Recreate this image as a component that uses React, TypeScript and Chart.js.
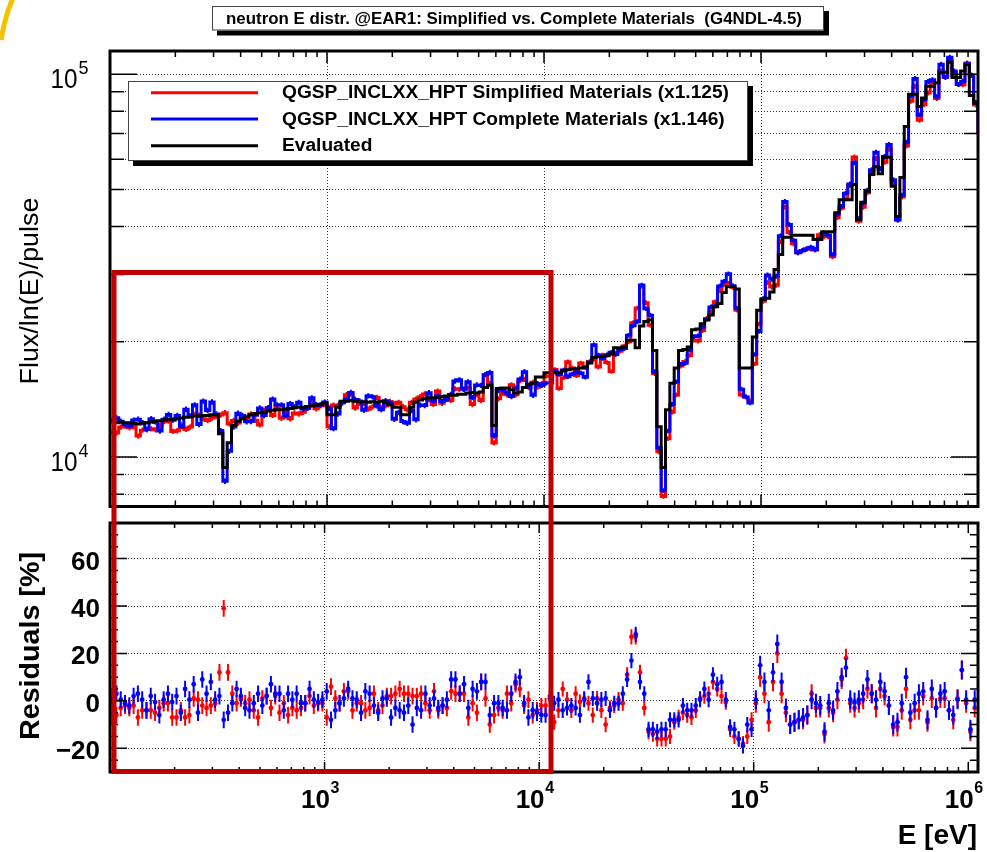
import React, { useEffect, useRef } from "react";
import { Chart, registerables } from "chart.js";

Chart.register(...registerables);

// ---------------- data ----------------
const binsPerDecade = 50;
const logEnergyStart = 2; // low edge of first bin = 10^2 eV

// Evaluated flux per bin (units of 1000 counts)
const evaluatedFluxK = [
  12.35, 12.3, 12.35, 12.3, 12.3, 12.25, 12.2, 12.25, 12.3, 12.35,
  12.4, 12.45, 12.5, 12.55, 12.55, 12.6, 12.65, 12.7, 12.75, 12.8,
  12.8, 12.85, 12.85, 12.9, 12.9, 11.5, 9.4, 10.9, 12.1, 12.4,
  12.6, 12.75, 12.9, 13.0, 13.05, 13.1, 13.2, 13.25, 13.3, 13.3,
  13.35, 13.4, 13.45, 13.5, 13.5, 13.55, 13.6, 13.65, 13.75, 13.85,
  12.9, 12.9, 13.5, 14.0, 14.0, 14.05, 14.0, 13.95, 13.95, 13.9,
  13.95, 13.9, 14.0, 13.9, 13.7, 13.5, 13.5, 12.9, 12.9, 13.5,
  13.9, 14.1, 14.2, 14.3, 14.3, 14.3, 14.4, 14.45, 14.5, 14.5,
  14.6, 14.6, 14.7, 14.75, 14.7, 14.8, 15.2, 15.4, 12.1, 15.1,
  15.15, 15.15, 15.0, 14.7, 14.8, 15.2, 15.5, 15.6, 16.2, 16.2,
  16.6, 16.6, 16.6, 16.6, 16.8, 16.9, 17.0, 17.0, 17.1, 17.2,
  17.6, 18.2, 18.3, 18.3, 18.4, 18.6, 19.3, 19.3, 19.4, 20.2,
  20.2, 19.3, 22.0, 22.6, 22.8, 19.0, 12.0, 9.4, 13.3, 15.6,
  17.1, 19.0, 19.1, 19.4, 21.5, 21.6, 22.3, 22.8, 23.5, 24.7,
  25.2, 26.9, 27.9, 27.9, 27.5, 17.1, 17.1, 17.1, 20.6, 24.2,
  25.8, 26.0, 27.0, 30.9, 33.8, 37.5, 37.5, 38.0, 38.0, 38.0,
  38.0, 38.0, 37.0, 37.0, 38.8, 38.8, 38.8, 43.5, 47.0, 47.0,
  47.0, 51.5, 41.7, 46.3, 49.5, 54.7, 57.4, 55.0, 60.7, 60.7,
  51.0, 42.5, 53.7, 73.0, 88.6, 88.6, 82.4, 86.7, 93.0, 93.0,
  95.0, 101.2, 101.2, 107.5, 98.0, 98.0, 102.0, 106.0, 88.0, 84.0,
  80.0, 82.0,
];

// Residuals [%] of Simplified Materials (red) vs evaluated
const residualSimplified = [
  -6, -6, -3, -2, -3, -2, -7, -4, -4, -4,
  -5, -3, -1, -1, -7, -7, -4, -7, -6, 1,
  0.5, -2, -3, -2, -1, 12, 39, 12, 3, -1,
  1, -1, 0.5, -4, -7, 1, 2, -3, 2, -5,
  -1, -6, -3, -4, -3, -1, 2, -2, -1, -1,
  -7, 6, 1, -1, 4, 4, -4, -1, -1, -4,
  -3, 3, -4, -2, 2, 2, 3, 5, 3, 3,
  2, 2, 3, -1, -4, 4, -4, -2, -3, 4,
  3, 3, 3, -7, -1, -5, 8, 1, -10, -6,
  -3, -4, 3, -1, 7, 5, -2, 0.5, -6, -4,
  -2, -2, 2, -9, -4, 5, 0.5, -4, 3, -0.5,
  1, -1, -6, 1, -4, -10, -3, -2, 0.5, -1,
  11, 27, 27, 12, -3, -13, -14, -16, -16, -16,
  -15, -9, -7, -5, -6, -7, -4, 1, 2, 3,
  8, 5, 2, -0.5, -12, -15, -16, -18, -15, -8,
  -1, 10, 3, -9, 8, 20, 3, -5, -10, -9,
  -8, -8, -6, 3, -3, -3, -14, -3, -5, 0.5,
  9, 18, -1, -3, -1, 0.5, 5, 3, -3, 5,
  2, -2, -11, -11, -4, 5, -8, -4, -4, 2,
  -9, 1, -3, 1, 1, -4, -8, 1, 13, -1,
  -13, -3,
];

// Residuals [%] of Complete Materials (blue) vs evaluated
const residualComplete = [
  1, 3, 0.5, -1, -2, 2, 3, 0.5, -4, 2,
  -0.5, -6, 0.5, 3, -0.5, 2, -5, 5, 0.5, 7,
  -5, 9, 3, 8, 0.5, 2, -8, -5, -1, 5,
  2, -3, -4, -1, 3, -2, 2, 7, 3, 3,
  -4, 3, 0.5, 3, -1, -1, 5, 0.5, -0.5, 0.5,
  4, -8, -4, -1, 1, 5, 1, 0.5, -5, 4,
  3, -2, -5, 1, 1, -7, -3, -4, -5, -2,
  -10, -3, -4, 3, -2, 1, -3, -2, 0.5, 9,
  9, 3, 7, -3, 5, 4, 8, 8, -6, -1,
  -1, -3, -4, 3, 8, 10, -1, -7, -4, -5,
  -6, -6, 1, -1, 0.5, -4, -3, -2, -3, -6,
  0.5, 8, 1, -1, 0.5, 1, -4, -1, -1, 3,
  9, 17, 28, 8, 3, -12, -12, -13, -12, -12,
  -8, -8, -8, -2, -4, -4, -2, 0.5, 5, 0.5,
  11, 7, 8, 0.5, -11, -12, -16, -19, -10, -12,
  0.5, 15, 8, -4, 12, 24, 8, -3, -10, -9,
  -8, -7, -6, 0.5, -1, -2, -13, -1, -4, 4,
  10, 14, 0.5, -0.5, 0.5, 3, 9, 3, 0.5, 8,
  4, -2, -10, -9, -1, 10, -5, -1, 3, 4,
  -8, 5, -3, 3, 4, -4, -6, 0.5, 13, 0.5,
  -12, 0.5,
];

// statistical error sizes (percent), per energy decade
const topRelErrPctByDecade = [1.6, 1.6, 1.4, 1.5];
const residualErrPctByDecade = [3.5, 3.5, 3.2, 4.0];

// axis ticks
const xDecadeTicks = [1e2, 1e3, 1e4, 1e5, 1e6];
const fluxGridTicks = [8e3, 9e3, 1e4, 2e4, 3e4, 4e4, 5e4, 6e4, 7e4, 8e4, 9e4, 1e5];
const fluxMajorTicks = [1e4, 1e5];
const residualTicks = [-20, 0, 20, 40, 60];
const residualTickLabels = ["\u221220", "0", "20", "40", "60"];

const titleText = "neutron E distr. @EAR1: Simplified vs. Complete Materials  (G4NDL-4.5)";
const seriesNames = [
  "QGSP_INCLXX_HPT Simplified Materials (x1.125)",
  "QGSP_INCLXX_HPT Complete Materials (x1.146)",
  "Evaluated",
];
const seriesColors = ["#ff0000", "#0000ff", "#000000"];

// ---------------- helpers ----------------
const PAGE_W = 987;
const PAGE_H = 852;
const FONT = "'Liberation Sans', Arial, Helvetica, sans-serif";
const GRID_COLOR = "rgba(0,0,0,0.8)";

const TOP_AREA = { left: 110, top: 51, right: 978, bottom: 506.5 };
const BOT_AREA = { left: 110, top: 523, right: 978, bottom: 772 };

const binLow = (i: number) => Math.pow(10, logEnergyStart + i / binsPerDecade);
const binCenter = (i: number) => Math.pow(10, logEnergyStart + (i + 0.5) / binsPerDecade);
const decadeOf = (i: number) => Math.max(0, Math.min(3, Math.floor(i / binsPerDecade)));

const evaluatedFlux = evaluatedFluxK.map((v) => v * 1000);
const simplifiedFlux = evaluatedFlux.map((v, i) => v * (1 + residualSimplified[i] / 100));
const completeFlux = evaluatedFlux.map((v, i) => v * (1 + residualComplete[i] / 100));

function histPoints(vals: number[]) {
  const pts = vals.map((v, i) => ({ x: binLow(i), y: v }));
  pts.push({ x: binLow(vals.length), y: vals[vals.length - 1] });
  return pts;
}

function logMinor(decades: number[]) {
  const out: number[] = [];
  for (const d of decades) for (let k = 2; k <= 9; k++) out.push(d * k);
  return out;
}

function fitText(ctx: any, text: string, x: number, y: number, targetW: number, align: any = "left") {
  const w = ctx.measureText(text).width;
  const s = targetW / w;
  ctx.save();
  ctx.translate(x, y);
  ctx.scale(s, 1);
  ctx.textAlign = align;
  ctx.fillText(text, 0, 0);
  ctx.restore();
}

function shadowBox(ctx: any, x: number, y: number, w: number, h: number, sh: number) {
  ctx.save();
  ctx.fillStyle = "#000";
  ctx.fillRect(x + sh, y + sh, w, h);
  ctx.fillStyle = "#fff";
  ctx.fillRect(x, y, w, h);
  ctx.strokeStyle = "#444";
  ctx.lineWidth = 1;
  ctx.strokeRect(x + 0.5, y + 0.5, w - 1, h - 1);
  ctx.restore();
}

function frameAndTicks(chart: any, o: any) {
  const { ctx, chartArea: a } = chart;
  const xs = chart.scales.x;
  const ys = chart.scales.y;
  ctx.save();
  ctx.strokeStyle = "#000";
  ctx.lineWidth = 1.5;
  ctx.beginPath();
  const xt = (vals: number[], len: number) => {
    for (const v of vals) {
      if (v <= xs.min || v >= xs.max) continue;
      const p = xs.getPixelForValue(v);
      ctx.moveTo(p, a.bottom);
      ctx.lineTo(p, a.bottom - len);
      ctx.moveTo(p, a.top);
      ctx.lineTo(p, a.top + len);
    }
  };
  const yt = (vals: number[], len: number) => {
    for (const v of vals) {
      if (v <= ys.min || v >= ys.max) continue;
      const p = ys.getPixelForValue(v);
      ctx.moveTo(a.left, p);
      ctx.lineTo(a.left + len, p);
      ctx.moveTo(a.right, p);
      ctx.lineTo(a.right - len, p);
    }
  };
  xt(o.xMajor, o.xMajorLen);
  xt(o.xMinor, o.xMinorLen);
  yt(o.yMajor, o.yMajorLen);
  yt(o.yMinor, o.yMinorLen);
  ctx.stroke();
  ctx.lineWidth = 3;
  ctx.strokeRect(a.left, a.top, a.right - a.left, a.bottom - a.top);
  ctx.restore();
}

// Chart.js paints dataset 0 last (on top); datasets are listed top-most first.
// top chart datasets: 0 = evaluated (black), 1 = complete (blue), 2 = simplified (red)
const topSeriesOrder = [2, 1, 0];
const topValues = [evaluatedFlux, completeFlux, simplifiedFlux];

const topPlugin = {
  id: "topDecor",
  afterDatasetDraw(chart: any, args: any) {
    if (args.index === 0) return;
    const vals = topValues[args.index];
    const color = seriesColors[topSeriesOrder[args.index]];
    const { ctx, chartArea: a } = chart;
    const xs = chart.scales.x;
    const ys = chart.scales.y;
    ctx.save();
    ctx.beginPath();
    ctx.rect(a.left, a.top, a.right - a.left, a.bottom - a.top);
    ctx.clip();
    ctx.strokeStyle = color;
    ctx.lineWidth = 2;
    ctx.beginPath();
    vals.forEach((v, i) => {
      const e = topRelErrPctByDecade[decadeOf(i)] / 100;
      const px = xs.getPixelForValue(binCenter(i));
      ctx.moveTo(px, ys.getPixelForValue(v * (1 - e)));
      ctx.lineTo(px, ys.getPixelForValue(v * (1 + e)));
    });
    ctx.stroke();
    ctx.restore();
  },
  afterDraw(chart: any) {
    const ctx = chart.ctx;
    const ys = chart.scales.y;
    frameAndTicks(chart, {
      xMajor: xDecadeTicks,
      xMinor: logMinor([1e2, 1e3, 1e4, 1e5]),
      xMajorLen: 12,
      xMinorLen: 6,
      yMajor: fluxMajorTicks,
      yMinor: fluxGridTicks.filter((v) => fluxMajorTicks.indexOf(v) < 0),
      yMajorLen: 27,
      yMinorLen: 14,
    });
    ctx.save();
    ctx.fillStyle = "#000";
    ctx.textBaseline = "alphabetic";
    // y tick labels 10^n
    for (const v of fluxMajorTicks) {
      const p = ys.getPixelForValue(v);
      const exp = String(Math.round(Math.log10(v)));
      ctx.font = `27px ${FONT}`;
      ctx.save();
      ctx.translate(50.5, p + 14);
      ctx.scale(0.9, 1);
      ctx.fillText("10", 0, 0);
      ctx.restore();
      ctx.font = `18px ${FONT}`;
      ctx.fillText(exp, 78.5, p - 0.5);
    }
    // y title
    ctx.save();
    ctx.translate(31, 291);
    ctx.rotate(-Math.PI / 2);
    ctx.font = `26px ${FONT}`;
    ctx.textBaseline = "middle";
    fitText(ctx, "Flux/ln(E)/pulse", 0, 0, 187, "center");
    ctx.restore();
    // title box
    shadowBox(ctx, 212, 6, 612, 24.5, 5);
    ctx.font = `bold 17px ${FONT}`;
    ctx.fillStyle = "#000";
    fitText(ctx, titleText, 514, 23.5, 576, "center");
    // legend
    shadowBox(ctx, 128, 81, 620, 80, 5);
    ctx.font = `bold 18px ${FONT}`;
    const sx = 447 / ctx.measureText(seriesNames[0]).width;
    const rows = [92.7, 119, 145.7];
    seriesNames.forEach((name, k) => {
      ctx.strokeStyle = seriesColors[k];
      ctx.lineWidth = 3;
      ctx.beginPath();
      ctx.moveTo(151, rows[k]);
      ctx.lineTo(258, rows[k]);
      ctx.stroke();
      ctx.save();
      ctx.fillStyle = "#000";
      ctx.translate(282, rows[k] + 5.5);
      ctx.scale(sx, 1);
      ctx.fillText(name, 0, 0);
      ctx.restore();
    });
    ctx.restore();
  },
};

const residualMinorTicks: number[] = [];
for (let v = -25; v <= 70; v += 5) if (residualTicks.indexOf(v) < 0) residualMinorTicks.push(v);

// bottom chart datasets: 0 = complete (blue, on top), 1 = simplified (red)
const botSeriesOrder = [1, 0];
const botValues = [residualComplete, residualSimplified];

const bottomPlugin = {
  id: "bottomDecor",
  beforeDatasetDraw(chart: any, args: any) {
    const vals = botValues[args.index];
    const { ctx, chartArea: a } = chart;
    const xs = chart.scales.x;
    const ys = chart.scales.y;
    ctx.save();
    ctx.beginPath();
    ctx.rect(a.left, a.top, a.right - a.left, a.bottom - a.top);
    ctx.clip();
    ctx.strokeStyle = seriesColors[botSeriesOrder[args.index]];
    ctx.lineWidth = 2;
    ctx.beginPath();
    vals.forEach((r, i) => {
      const e = residualErrPctByDecade[decadeOf(i)];
      const px = xs.getPixelForValue(binCenter(i));
      ctx.moveTo(px, ys.getPixelForValue(r - e));
      ctx.lineTo(px, ys.getPixelForValue(r + e));
    });
    ctx.stroke();
    ctx.restore();
  },
  afterDraw(chart: any) {
    const ctx = chart.ctx;
    const xs = chart.scales.x;
    const ys = chart.scales.y;
    frameAndTicks(chart, {
      xMajor: xDecadeTicks,
      xMinor: logMinor([1e2, 1e3, 1e4, 1e5, 1e6]),
      xMajorLen: 10,
      xMinorLen: 5,
      yMajor: residualTicks,
      yMinor: residualMinorTicks,
      yMajorLen: 17,
      yMinorLen: 8,
    });
    ctx.save();
    ctx.fillStyle = "#000";
    ctx.textBaseline = "alphabetic";
    // x tick labels
    for (const v of xDecadeTicks) {
      if (v <= xs.min || v > xs.max) continue;
      const p = xs.getPixelForValue(v);
      const exp = String(Math.round(Math.log10(v)));
      ctx.font = `bold 26px ${FONT}`;
      ctx.textAlign = "left";
      ctx.fillText("10", p - 23.5, 808);
      ctx.font = `bold 16px ${FONT}`;
      ctx.fillText(exp, p + 6, 793);
    }
    // y tick labels
    ctx.font = `bold 26px ${FONT}`;
    ctx.textAlign = "right";
    residualTicks.forEach((v, k) => {
      const p = ys.getPixelForValue(v);
      ctx.fillText(residualTickLabels[k], 100, p + 11);
    });
    // y title
    ctx.save();
    ctx.translate(31, 646);
    ctx.rotate(-Math.PI / 2);
    ctx.font = `bold 28px ${FONT}`;
    ctx.textBaseline = "middle";
    fitText(ctx, "Residuals [%]", 0, 0, 188, "center");
    ctx.restore();
    // x title
    ctx.font = `bold 28px ${FONT}`;
    ctx.textAlign = "right";
    ctx.fillText("E [eV]", 977, 844);
    // red highlight rectangle
    ctx.strokeStyle = "#c00000";
    ctx.lineWidth = 5;
    ctx.strokeRect(114, 272.5, 437, 499);
    // yellow arc at the corner
    ctx.strokeStyle = "#f5c200";
    ctx.lineWidth = 5;
    ctx.beginPath();
    ctx.moveTo(13, -2);
    ctx.quadraticCurveTo(5, 16, 1, 40);
    ctx.stroke();
    ctx.restore();
  },
};

function commonScaleOpts() {
  return {
    ticks: { display: false },
    grid: { color: GRID_COLOR, lineWidth: 1, drawTicks: false },
    border: { display: false, dash: [1, 2] },
  };
}

function histDataset(vals: number[], color: string) {
  return { data: histPoints(vals), borderColor: color, borderWidth: 3, pointRadius: 0, stepped: true, fill: false };
}

function residualDataset(vals: number[], color: string) {
  return {
    data: vals.map((r, i) => ({ x: binCenter(i), y: r })),
    backgroundColor: color,
    borderColor: color,
    pointRadius: 2.4,
    pointBorderWidth: 0,
  };
}

export default function App() {
  const topRef = useRef<HTMLCanvasElement>(null);
  const botRef = useRef<HTMLCanvasElement>(null);

  useEffect(() => {
    if (!topRef.current || !botRef.current) return;
    const topChart = new Chart(topRef.current, {
      type: "line",
      data: {
        datasets: topValues.map((vals, k) => histDataset(vals, seriesColors[topSeriesOrder[k]])),
      },
      options: {
        responsive: false,
        animation: false,
        devicePixelRatio: 1,
        events: [],
        layout: {
          padding: {
            left: TOP_AREA.left,
            top: TOP_AREA.top,
            right: PAGE_W - TOP_AREA.right,
            bottom: PAGE_H - TOP_AREA.bottom,
          },
        },
        plugins: { legend: { display: false }, tooltip: { enabled: false }, title: { display: false } },
        scales: {
          x: {
            type: "logarithmic",
            min: 100,
            max: 1e6,
            bounds: "data",
            afterFit: (s: any) => { s.height = 0; },
            afterBuildTicks: (s: any) => {
              s.ticks = xDecadeTicks.filter((v) => v > 100 && v < 1e6).map((v) => ({ value: v }));
            },
            ...commonScaleOpts(),
          },
          y: {
            type: "logarithmic",
            min: 7430,
            max: 115000,
            bounds: "data",
            afterFit: (s: any) => { s.width = 0; },
            afterBuildTicks: (s: any) => {
              s.ticks = fluxGridTicks.map((v) => ({ value: v }));
            },
            ...commonScaleOpts(),
          },
        },
      } as any,
      plugins: [topPlugin],
    } as any);

    const botChart = new Chart(botRef.current, {
      type: "scatter",
      data: {
        datasets: botValues.map((vals, k) => residualDataset(vals, seriesColors[botSeriesOrder[k]])),
      },
      options: {
        responsive: false,
        animation: false,
        devicePixelRatio: 1,
        events: [],
        layout: {
          padding: {
            left: BOT_AREA.left,
            top: BOT_AREA.top,
            right: PAGE_W - BOT_AREA.right,
            bottom: PAGE_H - BOT_AREA.bottom,
          },
        },
        plugins: { legend: { display: false }, tooltip: { enabled: false }, title: { display: false } },
        scales: {
          x: {
            type: "logarithmic",
            min: 100,
            max: 1.11e6,
            bounds: "data",
            afterFit: (s: any) => { s.height = 0; },
            afterBuildTicks: (s: any) => {
              s.ticks = xDecadeTicks.filter((v) => v > 100 && v < 1e6).map((v) => ({ value: v }));
            },
            ...commonScaleOpts(),
          },
          y: {
            type: "linear",
            min: -30,
            max: 75,
            bounds: "data",
            afterFit: (s: any) => { s.width = 0; },
            afterBuildTicks: (s: any) => {
              s.ticks = residualTicks.map((v) => ({ value: v }));
            },
            ...commonScaleOpts(),
          },
        },
      } as any,
      plugins: [bottomPlugin],
    } as any);

    return () => {
      topChart.destroy();
      botChart.destroy();
    };
  }, []);

  return (
    <div style={{ position: "absolute", left: 0, top: 0, width: PAGE_W, height: PAGE_H, background: "#fff", overflow: "hidden" }}>
      <canvas ref={topRef} width={PAGE_W} height={PAGE_H} style={{ position: "absolute", left: 0, top: 0, display: "block" }} />
      <canvas ref={botRef} width={PAGE_W} height={PAGE_H} style={{ position: "absolute", left: 0, top: 0, display: "block" }} />
    </div>
  );
}
